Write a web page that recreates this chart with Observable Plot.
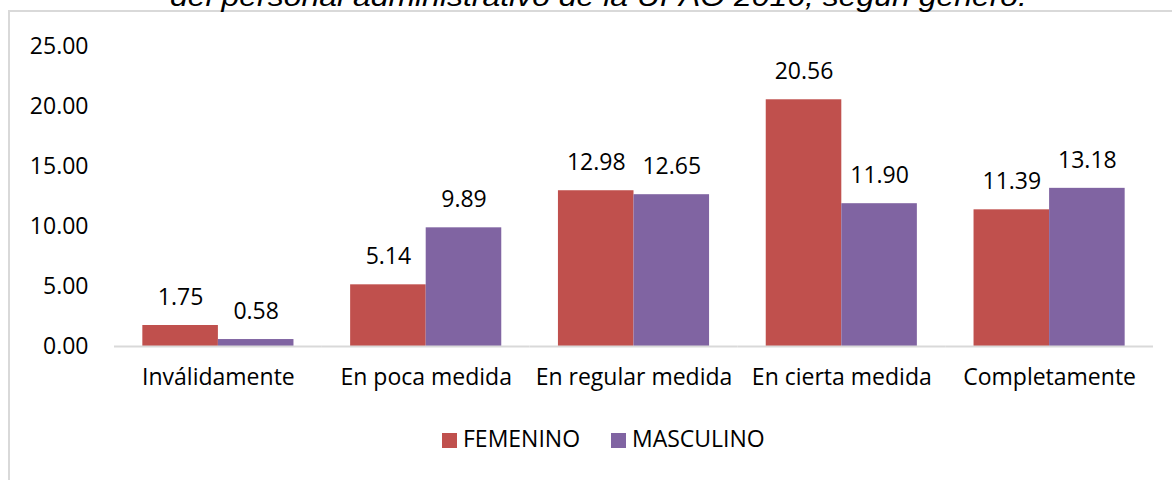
<!DOCTYPE html>
<html>
<head>
<meta charset="utf-8">
<script src="https://cdn.jsdelivr.net/npm/d3@7"></script>
<script src="https://cdn.jsdelivr.net/npm/@observablehq/plot@0.6"></script>
<style>
  html, body { margin: 0; padding: 0; background: #fff; }
  #wrap { position: relative; width: 1172px; height: 480px; overflow: hidden; font-family: "Open Sans", sans-serif; }
  #border { position: absolute; left: 8px; top: 10px; width: 1200px; height: 500px; border: 2px solid #d9d9d9; box-sizing: border-box; }
  #title { position: absolute; left: 0; top: 0; }
  #chart { position: absolute; left: 0; top: 0; }
  #legend { position: absolute; top: 426px; left: 0; width: 1172px; height: 30px; }
  .sw { position: absolute; top: 7px; width: 15px; height: 15px; }
  .lt { position: absolute; top: -3px; font-size: 23px; color: #000; line-height: 30px; white-space: nowrap; }
</style>
</head>
<body>
<div id="wrap">
  <div id="border"></div>
  <svg id="title" width="1172" height="20">
    <text x="170" y="6" textLength="857" lengthAdjust="spacingAndGlyphs" font-family="Liberation Sans, Arial, sans-serif" font-style="italic" font-size="27" fill="#000">del personal administrativo de la UPAO 2016, según género.</text>
  </svg>
  <div id="chart"></div>
  <div id="legend"></div>
</div>
<script>
const categories = ["Inválidamente", "En poca medida", "En regular medida", "En cierta medida", "Completamente"];
const series = ["FEMENINO", "MASCULINO"];
const femenino = [1.75, 5.14, 12.98, 20.56, 11.39];
const masculino = [0.58, 9.89, 12.65, 11.90, 13.18];
const yTicks = [0, 5, 10, 15, 20, 25];
const colors = ["#C0504D", "#8064A2"];

const data = [];
categories.forEach((c, i) => {
  data.push({category: c, gender: series[0], value: femenino[i]});
  data.push({category: c, gender: series[1], value: masculino[i]});
});

const chart = Plot.plot({
  width: 1172,
  height: 480,
  marginLeft: 114,
  marginRight: 19,
  marginTop: 46,
  marginBottom: 134,
  style: {fontFamily: "Open Sans, sans-serif", fontSize: "23px", color: "#000", background: "transparent"},
  fx: {domain: categories, padding: 0, round: false, label: null, axis: "bottom", tickSize: 0, tickPadding: 22},
  x: {domain: series, paddingInner: 0, paddingOuter: 0.375, round: false, axis: null},
  y: {domain: [0, 25], ticks: yTicks, tickFormat: d3.format(".2f"), label: null, tickSize: 0, tickPadding: 26},
  color: {domain: series, range: colors},
  marks: [
    Plot.barY(data, {fx: "category", x: "gender", y: "value", fill: "gender"}),
    Plot.text(data, {fx: "category", x: "gender", y: "value", text: d => d.value.toFixed(2), dy: -28, fontSize: 23, fill: "#000"}),
    Plot.ruleY([0], {stroke: "#d9d9d9", strokeWidth: 2})
  ]
});
chart.style.overflow = "visible";
document.getElementById("chart").appendChild(chart);

const legend = document.getElementById("legend");
const legX = [442, 611];
series.forEach((s, i) => {
  const sw = document.createElement("div");
  sw.className = "sw";
  sw.style.left = legX[i] + "px";
  sw.style.background = colors[i];
  legend.appendChild(sw);
  const t = document.createElement("div");
  t.className = "lt";
  t.style.left = (legX[i] + 21) + "px";
  t.textContent = s;
  legend.appendChild(t);
});
</script>
</body>
</html>
